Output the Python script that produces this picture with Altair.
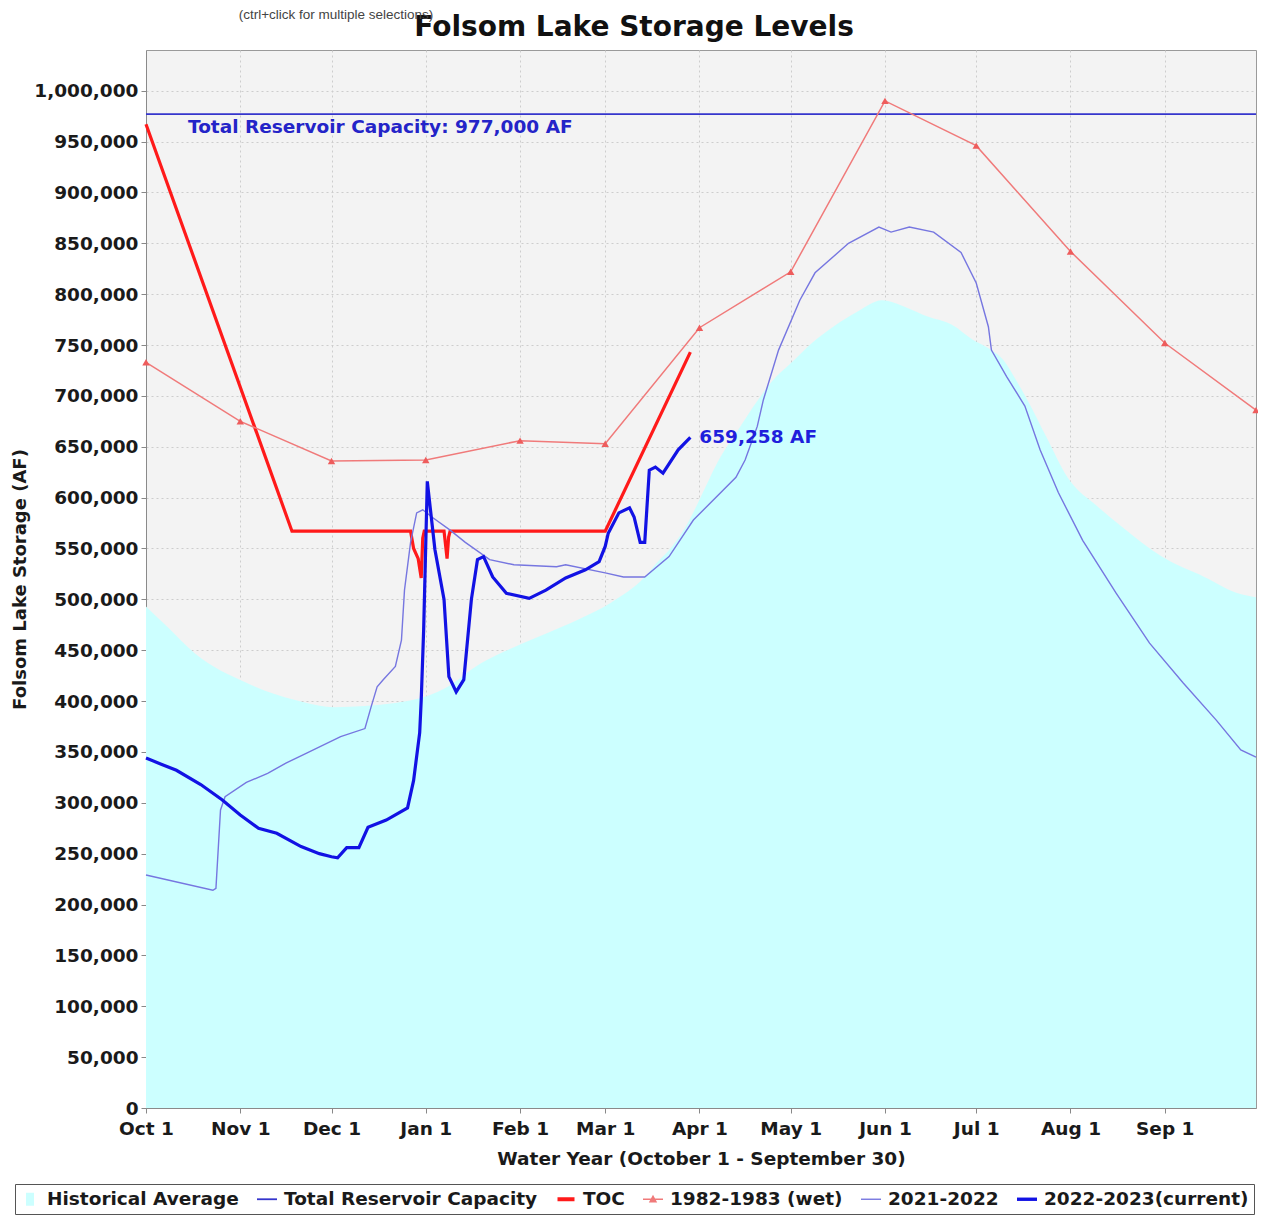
import altair as alt
import pandas as pd

# ---------------- data (day of water year, value in acre-feet) ----------------
hist_days = [0, 7, 16, 33, 49, 62, 82, 98, 110, 121, 132, 142, 153, 164, 168, 173, 178, 182, 188, 195,
             201, 206, 212, 219, 226, 234, 242, 250, 257, 265, 272, 278, 282, 286, 290, 296, 303, 313, 321, 334,
             348, 359, 365]
hist_vals = [493000, 473000, 447000, 418000, 401000, 394000, 398000, 412000, 437000, 453000,
             467000, 480000, 497000, 522000, 536000, 552000, 574000, 598000, 635000, 668000,
             695000, 715000, 732000, 752000, 768000, 783000, 794000, 787000, 778000, 770000,
             755000, 745000, 735000, 716000, 695000, 660000, 620000, 591000, 571000, 542000,
             522000, 506000, 502000]

capacity = 977000
cap_days = [0, 365]

toc_days = [0, 48, 87, 88, 89.5, 90.5, 91, 91.5, 98, 99, 99.5, 100, 151, 179]
toc_vals = [967000, 567000, 567000, 550000, 540000, 521000, 560000, 567000, 567000, 540000, 561000,
            567000, 567000, 743000]

wet_days = [0, 31, 61, 92, 123, 151, 182, 212, 243, 273, 304, 335, 365]
wet_vals = [733000, 675000, 636000, 637000, 656000, 653000, 767000, 822000, 990000, 946000, 842000,
            752000, 686000]

d21_days = [0, 22, 23, 24.5, 26, 33, 40, 46, 53, 64, 72, 74, 76, 78, 82, 84, 85, 87, 89, 91,
            94, 100, 105, 113, 121, 135, 138, 151, 157, 164, 172, 180, 194, 197, 201, 203, 208, 215, 220, 231,
            241, 245, 251, 259, 268, 273, 277, 278, 283, 289, 294, 300, 308, 319, 330, 341, 352, 360, 365]
d21_vals = [229000, 214000, 216000, 293000, 306000, 320000, 329000, 339000, 349000, 365000,
            373000, 394000, 414000, 421000, 434000, 460000, 509000, 556000, 585000, 588000,
            581000, 568000, 556000, 539000, 534000, 532000, 534000, 526000, 522000, 522000,
            542000, 578000, 620000, 637000, 670000, 696000, 745000, 794000, 821000, 850000,
            866000, 861000, 866000, 861000, 841000, 811000, 768000, 745000, 719000, 690000,
            647000, 605000, 558000, 506000, 457000, 418000, 381000, 352000, 345000]

cur_days = [0, 5, 10, 18, 25, 31, 37, 43, 51, 57, 61, 63, 66, 70, 73, 79, 86, 88, 90, 90.5,
            91.3, 92.5, 95, 98, 99.6, 102, 104.5, 107, 109, 111, 114, 118.5, 126, 131.5, 138, 144.5, 149, 151,
            152, 155.5, 159, 160.5, 162.5, 164, 165.5, 167.5, 170, 175, 179]
cur_vals = [344000, 338000, 332000, 318000, 303000, 288000, 275000, 270000, 257000, 250000,
            247000, 246000, 256000, 256000, 276000, 283000, 295000, 322000, 369000, 401000,
            470000, 616000, 549000, 500000, 424000, 409000, 421000, 500000, 539000, 542000,
            522000, 506000, 501000, 509000, 521000, 529000, 537000, 552000, 565000, 585000,
            590000, 581000, 556000, 556000, 627000, 630000, 624000, 647000, 659258]

month_labels = ["Oct 1", "Nov 1", "Dec 1", "Jan 1", "Feb 1", "Mar 1", "Apr 1", "May 1", "Jun 1",
                "Jul 1", "Aug 1", "Sep 1"]
y_ticks = list(range(0, 1000001, 50000))

legend_names = ["Historical Average", "Total Reservoir Capacity", "TOC", "1982-1983 (wet)",
                "2021-2022", "2022-2023(current)"]

title_text = "Folsom Lake Storage Levels"
ctrl_text = "(ctrl+click for multiple selections)"

# ---------------- styles ----------------
FONT = "DejaVu Sans"
C_HIST = "#ccffff"
C_CAP = "#3535cc"
C_TOC = "#ff1a1a"
C_WET = "#f07a7a"
C_WET_PT = "#ee5c5c"
C_21 = "#7676e0"
C_CUR = "#1212e4"

legend_colors = [C_HIST, C_CAP, C_TOC, C_WET, C_21, C_CUR]
legend_shapes = [
    "M-0.4,-0.65H0.4V0.65H-0.4Z",
    "M-1,-0.09H1V0.09H-1Z",
    "M-0.85,-0.2H0.85V0.2H-0.85Z",
    "M-1,-0.08H1V0.08H-1Z M0,-0.45L0.42,0.32L-0.42,0.32Z",
    "M-1,-0.07H1V0.07H-1Z",
    "M-1,-0.17H1V0.17H-1Z",
]

BASE = pd.Timestamp("2022-10-01")


def to_iso(days):
    return [(BASE + pd.Timedelta(days=float(d))).strftime("%Y-%m-%dT%H:%M:%SZ") for d in days]


hist_df = pd.DataFrame({"date": to_iso(hist_days), "v": hist_vals})
cap_df = pd.DataFrame({"date": to_iso(cap_days), "v": [capacity] * len(cap_days)})
toc_df = pd.DataFrame({"date": to_iso(toc_days), "v": toc_vals})
wet_df = pd.DataFrame({"date": to_iso(wet_days), "v": wet_vals})
d21_df = pd.DataFrame({"date": to_iso(d21_days), "v": d21_vals})
cur_df = pd.DataFrame({"date": to_iso(cur_days), "v": cur_vals})

month_start_days = [0, 31, 61, 92, 123, 151, 182, 212, 243, 273, 304, 335]
tick_values = []
for d in month_start_days:
    t = BASE + pd.Timedelta(days=d)
    tick_values.append(alt.DateTime(year=t.year, month=t.month, date=t.day, utc=True))

label_expr = "{" + ",".join(
    f"'{m}':'{lab}'" for m, lab in zip(
        ["Oct", "Nov", "Dec", "Jan", "Feb", "Mar", "Apr", "May", "Jun", "Jul", "Aug", "Sep"], month_labels)
) + "}[utcFormat(datum.value, '%b')]"

x_enc = alt.X(
    "date:T",
    title="Water Year (October 1 - September 30)",
    scale=alt.Scale(type="utc", domain=[alt.DateTime(year=2022, month=10, date=1, utc=True),
                                        alt.DateTime(year=2023, month=10, date=1, utc=True)]),
    axis=alt.Axis(values=tick_values, labelExpr=label_expr, labelFont=FONT, labelFontWeight="bold",
                  labelFontSize=18.5, labelColor="#1a1a1a", labelPadding=6, tickSize=5,
                  tickColor="#888888", domainColor="#8a8a8a", gridColor="#cdcdcd", gridDash=[2, 3],
                  labelFlush=False, labelOverlap=False,
                  titleFont=FONT, titleFontWeight="bold", titleFontSize=18.5, titleColor="#1a1a1a",
                  titlePadding=12),
)
y_enc = alt.Y(
    "v:Q",
    title="Folsom Lake Storage (AF)",
    scale=alt.Scale(domain=[0, 1040000], nice=False, zero=True),
    axis=alt.Axis(values=y_ticks, format=",d", labelFont=FONT, labelFontWeight="bold",
                  labelFontSize=18.5, labelColor="#1a1a1a", labelPadding=3, tickSize=5,
                  tickColor="#888888", domainColor="#8a8a8a", gridColor="#cdcdcd", gridDash=[2, 3],
                  labelFlush=False, labelOverlap=False,
                  titleFont=FONT, titleFontWeight="bold", titleFontSize=18, titleColor="#1a1a1a",
                  titlePadding=4),
)

hist_area = alt.Chart(hist_df).mark_area(color=C_HIST, opacity=1, interpolate="monotone").encode(
    x=x_enc, y=y_enc)
cap_line = alt.Chart(cap_df).mark_line(color=C_CAP, strokeWidth=1.6).encode(x=x_enc, y=y_enc)
toc_line = alt.Chart(toc_df).mark_line(color=C_TOC, strokeWidth=3.2).encode(x=x_enc, y=y_enc)
wet_line = alt.Chart(wet_df).mark_line(color=C_WET, strokeWidth=1.5).encode(x=x_enc, y=y_enc)
wet_pts = alt.Chart(wet_df).mark_point(shape="triangle-up", filled=True, size=55, color=C_WET_PT,
                                       opacity=1).encode(x=x_enc, y=y_enc)
d21_line = alt.Chart(d21_df).mark_line(color=C_21, strokeWidth=1.4).encode(x=x_enc, y=y_enc)
cur_line = alt.Chart(cur_df).mark_line(color=C_CUR, strokeWidth=3.2).encode(x=x_enc, y=y_enc)

cap_label_df = pd.DataFrame({"date": to_iso([0]), "v": [capacity],
                             "label": [f"Total Reservoir Capacity: {capacity:,} AF"]})
cap_text = alt.Chart(cap_label_df).mark_text(
    font=FONT, fontWeight="bold", fontSize=18.5, color="#2424c8", align="left", baseline="middle",
    dx=42, dy=13).encode(x=x_enc, y=y_enc, text="label:N")

cur_label_df = pd.DataFrame({"date": to_iso([cur_days[-1]]), "v": [cur_vals[-1]],
                             "label": [f"{cur_vals[-1]:,} AF"]})
cur_text = alt.Chart(cur_label_df).mark_text(
    font=FONT, fontWeight="bold", fontSize=18.5, color="#1f1fdc", align="left", baseline="middle",
    dx=9, dy=0).encode(x=x_enc, y=y_enc, text="label:N")

title_mark = alt.Chart(pd.DataFrame({"t": [title_text]})).mark_text(
    font=FONT, fontWeight="bold", fontSize=28, color="#111111", align="center", baseline="alphabetic"
).encode(x=alt.value(488), y=alt.value(-14), text="t:N")

ctrl_mark = alt.Chart(pd.DataFrame({"t": [ctrl_text]})).mark_text(
    font="Liberation Sans", fontSize=13.5, color="#444444", align="center", baseline="alphabetic"
).encode(x=alt.value(190), y=alt.value(-31), text="t:N")

leg_props = dict(orient="none", legendX=-131, legendY=1134, direction="horizontal", columns=6,
                 labelFont=FONT, labelFontWeight="bold", labelFontSize=18.5, labelColor="#1a1a1a",
                 labelLimit=400, labelOffset=7, columnPadding=18, symbolSize=400, symbolStrokeWidth=0,
                 symbolOpacity=1, padding=5, strokeColor="#555555", fillColor="#ffffff")

legend_df = pd.DataFrame({"series": legend_names, "date": to_iso([0] * len(legend_names)),
                          "v": [None] * len(legend_names)})
legend_layer = alt.Chart(legend_df).mark_point(filled=True, opacity=1).encode(
    x=x_enc, y=y_enc,
    color=alt.Color("series:N", title=None, sort=legend_names,
                    scale=alt.Scale(domain=legend_names, range=legend_colors),
                    legend=alt.Legend(**leg_props)),
    shape=alt.Shape("series:N", title=None, sort=legend_names,
                    scale=alt.Scale(domain=legend_names, range=legend_shapes),
                    legend=alt.Legend(**leg_props)),
)

chart = alt.layer(
    hist_area, cap_line, toc_line, wet_line, wet_pts, d21_line, cur_line,
    cap_text, cur_text, title_mark, ctrl_mark, legend_layer,
).properties(
    width=1110, height=1058,
    autosize=alt.AutoSizeParams(type="none"),
    padding={"left": 138, "top": 42, "right": 2, "bottom": 108},
    background="#ffffff",
).configure_view(fill="#f3f3f3", stroke="#9a9a9a", strokeWidth=1)

chart.save("out.html", embed_options={"renderer": "svg", "actions": False})
